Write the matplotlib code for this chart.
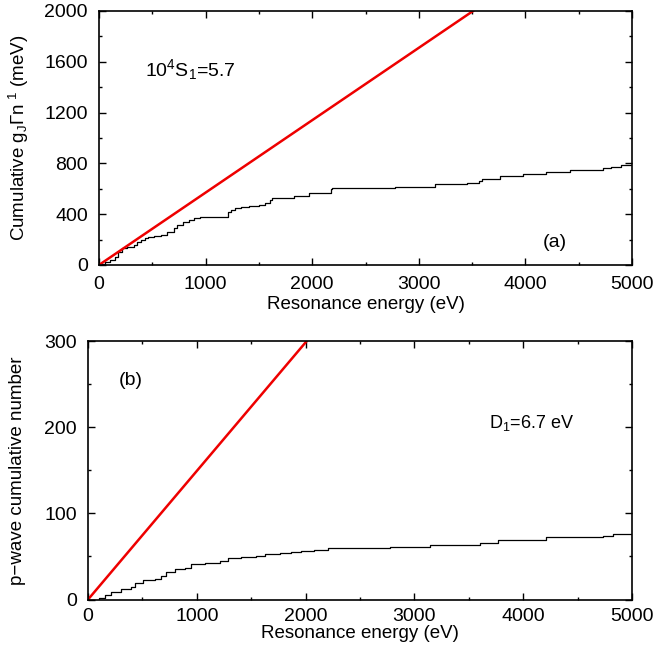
import matplotlib
matplotlib.use("Agg")
import matplotlib.pyplot as plt
import numpy as np

plt.rcParams['font.family'] = ['Liberation Sans', 'DejaVu Sans']
plt.rcParams['mathtext.fontset'] = 'custom'
plt.rcParams['mathtext.rm'] = 'Liberation Sans'
plt.rcParams['mathtext.it'] = 'Liberation Sans:italic'
plt.rcParams['font.size'] = 14

# Panel (a): cumulative reduced widths
energy_a = [0, 30, 60, 100, 150, 180, 215, 260, 300, 330, 360, 393, 430, 455, 520, 580,
            640, 704, 735, 790, 840, 890, 950, 1206, 1240, 1271, 1330, 1411, 1505, 1560,
            1600, 1623, 1832, 1972, 2175, 2187, 2773, 3150, 3449, 3560, 3589, 3763, 3981,
            4196, 4418, 4729, 4804, 4897, 5000]
gamma_a = [0, 10, 20, 39, 65, 100, 134, 140, 144, 160, 180, 197, 215, 223, 230, 236,
           262, 289, 315, 335, 355, 367, 375, 420, 432, 446, 456, 464, 472, 490,
           510, 525, 546, 570, 596, 604, 612, 635, 646, 660, 677, 701, 714,
           730, 748, 761, 774, 787, 790]
S1_1e4 = 5.7  # strength function x 1e4

# Panel (b): p-wave cumulative number
energy_b = [0, 100, 154, 215, 307, 399, 429, 506, 613, 674, 720, 797, 889, 950, 1073,
            1210, 1287, 1410, 1548, 1624, 1762, 1870, 1960, 2080, 2209, 2772, 3140,
            3600, 3771, 4213, 4733, 4825, 5000]
count_b = [0, 2, 5, 9, 12, 15, 19, 23, 24, 27, 32, 35, 36, 41, 42,
           45, 48, 49, 51, 53, 54, 55, 56, 58, 60, 61, 63,
           66, 69, 72, 74, 76, 76]
D1 = 6.7  # eV

fig = plt.figure(figsize=(6.54, 6.57), dpi=100)
ax1 = fig.add_axes([0.1514, 0.5967, 0.815, 0.3866])
ax2 = fig.add_axes([0.1346, 0.0875, 0.8318, 0.3934])

TS = 14
LS = 13.5

def style(ax, xpad):
    ax.tick_params(which='both', direction='in', top=True, right=True, labelsize=TS)
    ax.tick_params(which='major', length=5, width=1)
    ax.tick_params(which='minor', length=2.5, width=1)
    ax.tick_params(axis='x', which='major', pad=xpad)
    ax.tick_params(axis='y', which='major', pad=8)
    for s in ax.spines.values():
        s.set_linewidth(1.2)

# (a)
xl = np.array([0, 5000])
ax1.step(energy_a, gamma_a, where='post', color='black', lw=0.9)
ax1.plot(xl, S1_1e4 * 1e-4 * 1000 * xl, color='#ee0000', lw=1.8)
ax1.set_xlim(0, 5000)
ax1.set_ylim(0, 2000)
ax1.set_xticks([0, 1000, 2000, 3000, 4000, 5000])
ax1.set_xticks(np.arange(0, 5001, 500), minor=True)
ax1.set_yticks([0, 400, 800, 1200, 1600, 2000])
ax1.set_yticks(np.arange(0, 2001, 200), minor=True)
style(ax1, 8)
ax1.set_xlabel('Resonance energy (eV)', fontsize=LS, labelpad=2)
ax1.set_ylabel('Cumulative g$_\\mathregular{J}$Γn$^\\mathregular{\\ 1}$ (meV)', fontsize=LS, labelpad=10)
ax1.text(431, 1535, '10$^\\mathregular{4}$S$_\\mathregular{1}$=5.7', fontsize=TS, va='center', ha='left')
ax1.text(4280, 173, '(a)', fontsize=TS, va='center', ha='center')

# (b)
ax2.step(energy_b, count_b, where='post', color='black', lw=0.9)
ax2.plot(xl, xl / D1, color='#ee0000', lw=1.8)
ax2.set_xlim(0, 5000)
ax2.set_ylim(0, 300)
ax2.set_xticks([0, 1000, 2000, 3000, 4000, 5000])
ax2.set_xticks(np.arange(0, 5001, 500), minor=True)
ax2.set_yticks([0, 100, 200, 300])
ax2.set_yticks(np.arange(0, 301, 50), minor=True)
style(ax2, 6)
ax2.set_xlabel('Resonance energy (eV)', fontsize=LS, labelpad=0)
ax2.set_ylabel('p\u2212wave cumulative number', fontsize=LS, labelpad=13)
ax2.text(395, 254, '(b)', fontsize=TS, va='center', ha='center')
ax2.text(3686, 205, 'D$_\\mathregular{1}$=6.7 eV', fontsize=13, va='center', ha='left')

fig.savefig('out.png', dpi=100)
